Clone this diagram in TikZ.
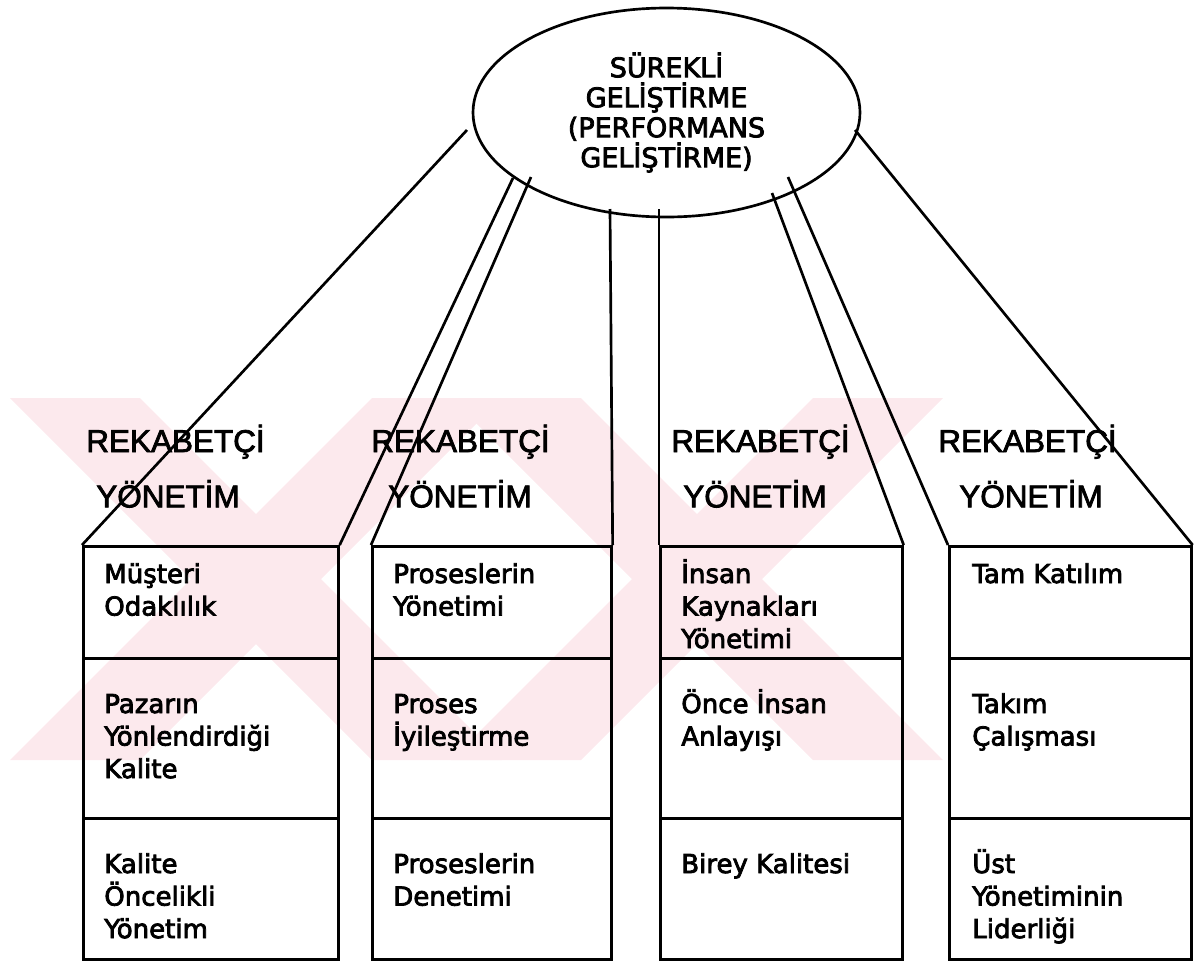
\documentclass[tikz,border=0pt]{standalone}
\usepackage{fontspec}
\setmainfont{DejaVu Sans}[FakeBold=3]
\newfontfamily\headfont{Liberation Sans}[FakeBold=2.5]
\usetikzlibrary{shapes.geometric}
\definecolor{wmpink}{RGB}{252,233,237}
\tikzset{
  cellbox/.style 2 args={draw, anchor=north west, inner sep=0pt,
    minimum width=#1*0.75pt, minimum height=#2*0.75pt},
  celltext/.style={anchor=base west, inner sep=0pt,
    font=\fontsize{19.5pt}{24.4pt}\selectfont},
  headtext/.style={anchor=base west, inner sep=0pt,
    font=\headfont\fontsize{23.6pt}{41.5pt}\selectfont},
  conn/.style={line width=2pt}
}
\newcommand{\lines}[1]{\vtop{\baselineskip=24.4pt\lineskiplimit=-100pt #1}}
\newcommand{\hlines}[1]{\vtop{\baselineskip=41.5pt\lineskiplimit=-100pt #1}}
\begin{document}
\begin{tikzpicture}[x=0.75pt,y=-0.75pt,line width=2pt]
\useasboundingbox (0,0) rectangle (1197,961);
% watermark
\begin{scope}
\clip (0,398) rectangle (1197,760);
\fill[wmpink] (10,398) -- (140,398) -- (502,760) -- (372,760) -- cycle;
\fill[wmpink] (372,398) -- (502,398) -- (140,760) -- (10,760) -- cycle;
\fill[wmpink] (451,398) -- (581,398) -- (943,760) -- (813,760) -- cycle;
\fill[wmpink] (813,398) -- (943,398) -- (581,760) -- (451,760) -- cycle;
\end{scope}
% central ellipse
\node[ellipse, draw, inner sep=0pt, minimum width=387*0.75pt, minimum height=209*0.75pt,
      align=center, font=\fontsize{20.25pt}{22.5pt}\selectfont] (e) at (666.5,112.5)
  {SÜREKLİ\\GELİŞTİRME\\(PERFORMANS\\GELİŞTİRME)};
% start points of connectors
\coordinate (s1) at (467,130);
\coordinate (s2) at (513,178);
\coordinate (s3) at (531,177);
\coordinate (s4) at (610,209);
\coordinate (s5) at (659,209);
\coordinate (s6) at (772,193);
\coordinate (s7) at (788,177);
\coordinate (s8) at (855,130);
% boxes
\node[cellbox={255}{112}] (c11) at (82,545) {};
\node[cellbox={255}{160}] (c12) at (82,657) {};
\node[cellbox={255}{141}] (c13) at (82,817) {};
\node[cellbox={239}{112}] (c21) at (371,545) {};
\node[cellbox={239}{160}] (c22) at (371,657) {};
\node[cellbox={239}{141}] (c23) at (371,817) {};
\node[cellbox={242}{112}] (c31) at (659,545) {};
\node[cellbox={242}{160}] (c32) at (659,657) {};
\node[cellbox={242}{141}] (c33) at (659,817) {};
\node[cellbox={242}{112}] (c41) at (948,545) {};
\node[cellbox={242}{160}] (c42) at (948,657) {};
\node[cellbox={242}{141}] (c43) at (948,817) {};
% connectors
\draw[conn] (s1) -- (c11.north west);
\draw[conn] (s2) -- (c11.north east);
\draw[conn] (s3) -- (c21.north west);
\draw[conn] (s4) -- (c21.north east);
\draw[conn] (s5) -- (c31.north west);
\draw[conn] (s6) -- (c31.north east);
\draw[conn] (s7) -- (c41.north west);
\draw[conn] (s8) -- (c41.north east);
% headings
\node[headtext] (h1) at (85,452) {\hlines{\hbox{REKABETÇİ}\hbox{\kern7.5pt YÖNETİM}}};
\node[headtext] (h2) at (370,452) {\hlines{\hbox{REKABETÇİ}\hbox{\kern12.75pt YÖNETİM}}};
\node[headtext] (h3) at (670,452) {\hlines{\hbox{REKABETÇİ}\hbox{\kern9pt YÖNETİM}}};
\node[headtext] (h4) at (937,452) {\hlines{\hbox{REKABETÇİ}\hbox{\kern15.75pt YÖNETİM}}};
% cell texts
\node[celltext] (t11) at (103,583) {\lines{\hbox{Müşteri}\hbox{Odaklılık}}};
\node[celltext] (t12) at (103,713) {\lines{\hbox{Pazarın}\hbox{Yönlendirdiği}\hbox{Kalite}}};
\node[celltext] (t13) at (103,873) {\lines{\hbox{Kalite}\hbox{Öncelikli}\hbox{Yönetim}}};
\node[celltext] (t21) at (392,583) {\lines{\hbox{Proseslerin}\hbox{Yönetimi}}};
\node[celltext] (t22) at (392,713) {\lines{\hbox{Proses}\hbox{İyileştirme}}};
\node[celltext] (t23) at (392,873) {\lines{\hbox{Proseslerin}\hbox{Denetimi}}};
\node[celltext] (t31) at (680,583) {\lines{\hbox{İnsan}\hbox{Kaynakları}\hbox{Yönetimi}}};
\node[celltext] (t32) at (680,713) {\lines{\hbox{Önce İnsan}\hbox{Anlayışı}}};
\node[celltext] (t33) at (680,873) {\lines{\hbox{Birey Kalitesi}}};
\node[celltext] (t41) at (971,583) {\lines{\hbox{Tam Katılım}}};
\node[celltext] (t42) at (971,713) {\lines{\hbox{Takım}\hbox{Çalışması}}};
\node[celltext] (t43) at (971,873) {\lines{\hbox{Üst}\hbox{Yönetiminin}\hbox{Liderliği}}};
\end{tikzpicture}
\end{document}
